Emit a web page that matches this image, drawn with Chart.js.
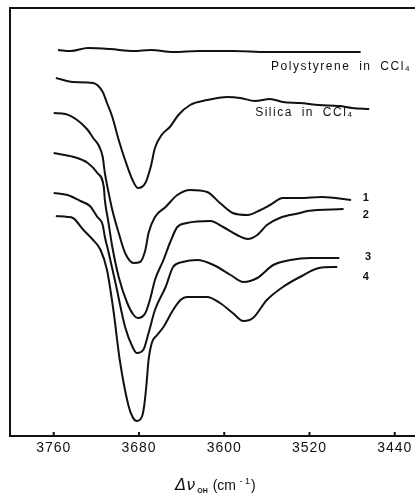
<!DOCTYPE html>
<html>
<head>
<meta charset="utf-8">
<script src="https://cdn.jsdelivr.net/npm/chart.js@4.4.1/dist/chart.umd.min.js"></script>
<style>
  body { margin: 0; background: #fff; }
  canvas { display: block; }
</style>
</head>
<body>
<canvas id="irChart" width="415" height="493"></canvas>
<script>
// OH stretching band, wavenumber (cm-1) vs. stacked transmittance (arbitrary units)
var polyWn = [3756, 3744, 3728, 3707, 3685, 3669, 3648, 3623, 3592, 3560, 3499, 3472];
var polyT = [386, 385, 388, 387, 385, 386, 384, 385, 385, 384, 384, 384];

var silicaWn = [3758, 3742, 3723, 3714, 3710, 3705, 3699, 3693, 3686, 3681, 3674, 3669, 3665, 3658,
    3651, 3643, 3632, 3616, 3597, 3585, 3571, 3557, 3545, 3529, 3511, 3492, 3480, 3464];
var silicaT = [358, 354, 353, 344, 333, 319, 296, 276, 256, 248, 253, 269, 288, 302,
    309, 321, 331, 336, 339, 338, 335, 337, 334, 333, 331, 330, 328, 327];

var s1Wn = [3760, 3749, 3738, 3728, 3723, 3718, 3714, 3712, 3709, 3705, 3699, 3693, 3685, 3679, 3674,
    3671, 3665, 3655, 3644, 3632, 3616, 3604, 3592, 3578, 3566, 3557, 3545, 3529, 3508, 3481];
var s1T = [323, 322, 316, 306, 298, 291, 279, 263, 246, 226, 203, 183, 173, 174, 186,
    203, 219, 229, 241, 246, 244, 233, 223, 221, 226, 231, 238, 238, 239, 236];

var s2Wn = [3760, 3741, 3728, 3719, 3713, 3712, 3709, 3705, 3699, 3691, 3685, 3681, 3674, 3669, 3665,
    3657, 3651, 3644, 3635, 3613, 3601, 3588, 3578, 3569, 3560, 3548, 3529, 3522, 3488];
var s2T = [283, 279, 273, 263, 249, 236, 216, 189, 159, 133, 121, 118, 123, 139, 156,
    176, 193, 209, 213, 215, 209, 201, 197, 201, 211, 218, 223, 225, 227];

var s3Wn = [3760, 3747, 3735, 3726, 3719, 3714, 3712, 3709, 3702, 3693, 3686, 3682, 3676, 3671,
    3665, 3655, 3648, 3639, 3625, 3610, 3594, 3582, 3569, 3554, 3538, 3519, 3492];
var s3T = [243, 241, 235, 230, 219, 211, 199, 186, 153, 109, 89, 83, 86, 103,
    126, 149, 169, 174, 176, 171, 161, 154, 158, 171, 176, 178, 178];

var s4Wn = [3758, 3747, 3742, 3732, 3723, 3716, 3710, 3704, 3698, 3690, 3686, 3682, 3677, 3675, 3673,
    3671, 3668, 3663, 3657, 3648, 3641, 3635, 3616, 3604, 3592, 3582, 3573, 3560, 3545, 3529, 3511, 3494];
var s4T = [220, 219, 218, 206, 196, 186, 166, 126, 76, 31, 19, 15, 20, 31, 51,
    76, 93, 101, 109, 126, 136, 139, 139, 133, 123, 115, 118, 136, 149, 159, 168, 169];

var tickLabels = [3760, 3680, 3600, 3520, 3440];
var curveNames = ['Polystyrene in CCl\u2084', 'Silica in CCl\u2084', '1', '2', '3', '4'];

function toPoints(wn, t) {
    return wn.map(function(w, i) { return { x: w, y: t[i] }; });
}

function curve(wn, t) {
    return {
        data: toPoints(wn, t),
        borderColor: '#111',
        borderWidth: 2,
        pointRadius: 0,
        fill: false,
        cubicInterpolationMode: 'monotone'
    };
}

// frame, inward tick marks, tick labels, curve names and axis title
var decor = {
    id: 'decor',
    afterDraw: function(chart) {
        var ctx = chart.ctx;
        var xs = chart.scales.x, ys = chart.scales.y, a = chart.chartArea;
        ctx.save();
        ctx.strokeStyle = '#111';
        ctx.fillStyle = '#111';
        ctx.lineWidth = 2;
        ctx.beginPath();
        ctx.moveTo(a.right, a.top);
        ctx.lineTo(a.left, a.top);
        ctx.lineTo(a.left, a.bottom);
        ctx.lineTo(a.right, a.bottom);
        ctx.stroke();

        ctx.font = '14px "Liberation Sans", Arial, sans-serif';
        ctx.letterSpacing = '1px';
        ctx.textAlign = 'center';
        ctx.textBaseline = 'middle';
        tickLabels.forEach(function(v) {
            var px = xs.getPixelForValue(v);
            ctx.beginPath();
            ctx.moveTo(px, a.bottom);
            ctx.lineTo(px, a.bottom - 4);
            ctx.stroke();
            ctx.fillText(String(v), px, a.bottom + 12);
        });

        // curve names, anchored in data coordinates
        var spots = [[3556, 369], [3571, 323], [3470, 238], [3470, 221], [3468, 179], [3470, 159]];
        ctx.textAlign = 'left';
        ctx.textBaseline = 'middle';
        curveNames.forEach(function(name, i) {
            var s = spots[i];
            if (i < 2) {
                ctx.font = '12px "Liberation Sans", Arial, sans-serif';
                ctx.letterSpacing = '1.5px';
                ctx.wordSpacing = '4px';
            } else {
                ctx.font = 'bold 11px "Liberation Sans", Arial, sans-serif';
                ctx.letterSpacing = '0px';
                ctx.wordSpacing = '0px';
            }
            ctx.fillText(name, xs.getPixelForValue(s[0]), ys.getPixelForValue(s[1]));
        });

        // axis title: delta nu OH (cm-1)
        ctx.letterSpacing = '0px';
        ctx.wordSpacing = '0px';
        ctx.textBaseline = 'alphabetic';
        var parts = [
            ['italic 16px "DejaVu Sans", sans-serif', '\u0394\u03BD', 0, 2],
            ['bold 7px "Liberation Sans", Arial, sans-serif', 'OH', 3, 5],
            ['14px "Liberation Sans", Arial, sans-serif', '(cm', 0, 1],
            ['9px "Liberation Sans", Arial, sans-serif', ' - 1', -6, 1],
            ['14px "Liberation Sans", Arial, sans-serif', ')', 0, 0]
        ];
        var total = 0;
        parts.forEach(function(p) { ctx.font = p[0]; total += ctx.measureText(p[1]).width + p[3]; });
        var x = (a.left + a.right) / 2 + 3 - total / 2;
        var base = 490;
        parts.forEach(function(p) {
            ctx.font = p[0];
            ctx.fillText(p[1], x, base + p[2]);
            x += ctx.measureText(p[1]).width + p[3];
        });
        ctx.restore();
    }
};

var ctx = document.getElementById('irChart').getContext('2d');
var irChart = new Chart(ctx, {
    type: 'line',
    data: {
        datasets: [
            curve(polyWn, polyT),
            curve(silicaWn, silicaT),
            curve(s1Wn, s1T),
            curve(s2Wn, s2T),
            curve(s3Wn, s3T),
            curve(s4Wn, s4T)
        ]
    },
    options: {
        responsive: false,
        animation: false,
        layout: { padding: { left: 10, top: 8, right: 0, bottom: 57 } },
        plugins: { legend: { display: false }, tooltip: { enabled: false } },
        scales: {
            x: { type: 'linear', reverse: true, min: 3421, max: 3801, display: false },
            y: { min: 0, max: 428, display: false }
        }
    },
    plugins: [decor]
});
</script>
</body>
</html>
